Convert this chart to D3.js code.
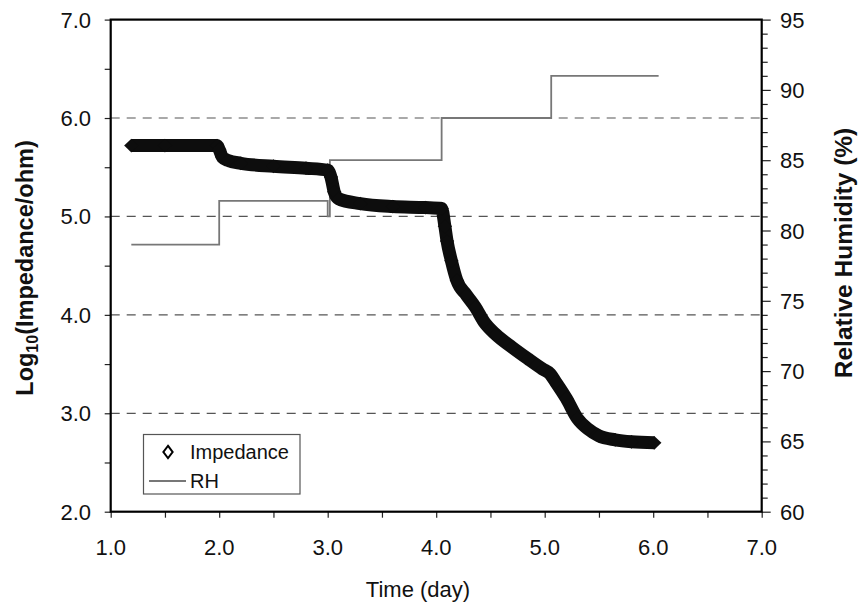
<!DOCTYPE html>
<html>
<head>
<meta charset="utf-8">
<script src="https://cdn.jsdelivr.net/npm/d3@7"></script>
<style>
  body { margin: 0; background: #fff; }
  text { font-family: "Liberation Sans", Arial, Helvetica, sans-serif; fill: #111; }
</style>
</head>
<body>
<svg width="859" height="605"></svg>
<script>
// Impedance readings (time in days, log10 impedance)
var impTime = [1.19, 1.5, 1.98, 2.0, 2.03, 2.08, 2.2, 2.5, 2.8, 3.0, 3.03, 3.06, 3.1, 3.3, 3.6, 3.9, 4.05,
  4.08, 4.10, 4.14, 4.19, 4.28, 4.36, 4.44, 4.55, 4.7, 4.85, 4.98, 5.05, 5.1, 5.2, 5.3, 5.4, 5.5, 5.65, 5.8, 6.01];
var impValue = [5.72, 5.72, 5.72, 5.68, 5.60, 5.57, 5.54, 5.51, 5.49, 5.47, 5.40, 5.25, 5.18, 5.13, 5.10, 5.09, 5.08,
  4.90, 4.75, 4.55, 4.35, 4.20, 4.08, 3.93, 3.80, 3.67, 3.55, 3.45, 3.40, 3.32, 3.15, 2.95, 2.84, 2.77, 2.73, 2.71, 2.70];

// Relative humidity steps (time in days, %)
var rhTime = [1.19, 2.0, 2.0, 3.0, 3.0, 3.02, 3.02, 4.05, 4.05, 5.06, 5.06, 6.05];
var rhValue = [79.0, 79.0, 82.1, 82.1, 81.0, 81.0, 85.0, 85.0, 88.0, 88.0, 91.0, 91.0];

// Ticks
var xTicks = [1, 2, 3, 4, 5, 6, 7];
var yTicks = [2, 3, 4, 5, 6, 7];
var gridValues = [3, 4, 5, 6];
var rhTicks = [60, 65, 70, 75, 80, 85, 90, 95];

var svg = d3.select("svg");
var pLeft = 110.7, pRight = 761.7, pTop = 19.6, pBottom = 511.7;

var x = d3.scaleLinear().domain([1, 7]).range([pLeft, pRight]);
var y = d3.scaleLinear().domain([2, 7]).range([pBottom, pTop]);
var yR = d3.scaleLinear().domain([60, 95]).range([pBottom, pTop]);

// dashed grid lines
svg.append("g")
  .selectAll("line")
  .data(gridValues)
  .enter()
  .append("line")
    .attr("x1", pLeft).attr("x2", pRight)
    .attr("y1", d => y(d)).attr("y2", d => y(d))
    .attr("stroke", "#555")
    .attr("stroke-width", 1.2)
    .attr("stroke-dasharray", "9,7");

// axes
var xAxis = svg.append("g")
  .attr("transform", "translate(0," + pBottom + ")")
  .call(d3.axisBottom(x).tickValues(d3.range(1, 7.01, 0.5)).tickSize(6).tickFormat(""));
var yAxis = svg.append("g")
  .attr("transform", "translate(" + pLeft + ",0)")
  .call(d3.axisLeft(y).tickValues(d3.range(2, 7.01, 0.5)).tickSize(6).tickFormat(""));
var yAxisR = svg.append("g")
  .attr("transform", "translate(" + pRight + ",0)")
  .call(d3.axisRight(yR).tickValues(d3.range(60, 95.01, 1)).tickSize(6).tickFormat(""));

[xAxis, yAxis, yAxisR].forEach(function (g) {
  g.select(".domain").remove();
  g.selectAll("line").attr("stroke", "#222").attr("stroke-width", 1.2);
});
yAxisR.selectAll(".tick line").filter(d => d % 5 === 0).attr("x2", 9);

// frame
svg.append("rect")
  .attr("x", pLeft).attr("y", pTop)
  .attr("width", pRight - pLeft).attr("height", pBottom - pTop)
  .attr("fill", "none")
  .attr("stroke", "#000")
  .attr("stroke-width", 2.2);

// tick labels
svg.append("g")
  .selectAll("text")
  .data(xTicks)
  .enter()
  .append("text")
    .attr("x", d => x(d))
    .attr("y", 555)
    .attr("text-anchor", "middle")
    .attr("font-size", 22)
    .text(d => d.toFixed(1));

svg.append("g")
  .selectAll("text")
  .data(yTicks)
  .enter()
  .append("text")
    .attr("x", 91)
    .attr("y", d => y(d) + 8)
    .attr("text-anchor", "end")
    .attr("font-size", 22)
    .text(d => d.toFixed(1));

svg.append("g")
  .selectAll("text")
  .data(rhTicks)
  .enter()
  .append("text")
    .attr("x", 780)
    .attr("y", d => yR(d) + 8)
    .attr("font-size", 22)
    .text(d => d);

// axis titles
svg.append("text")
  .attr("x", 418).attr("y", 597)
  .attr("text-anchor", "middle")
  .attr("font-size", 22)
  .text("Time (day)");

var lt = svg.append("text")
  .attr("transform", "translate(33,268) rotate(-90)")
  .attr("text-anchor", "middle")
  .attr("font-size", 23.5)
  .attr("font-weight", "bold");
lt.append("tspan").text("Log");
lt.append("tspan").attr("font-size", 16).attr("dy", 5).text("10");
lt.append("tspan").attr("dy", -5).text("(Impedance/ohm)");

svg.append("text")
  .attr("transform", "translate(852,253) rotate(-90)")
  .attr("text-anchor", "middle")
  .attr("font-size", 24.5)
  .attr("font-weight", "bold")
  .text("Relative Humidity (%)");

// RH line
var rhLine = d3.line()
  .x((d, i) => x(rhTime[i]))
  .y(d => yR(d));
svg.append("path")
  .datum(rhValue)
  .attr("d", rhLine)
  .attr("fill", "none")
  .attr("stroke", "#777")
  .attr("stroke-width", 1.8);

// Impedance: dense diamond markers drawn as a thick band
var impLine = d3.line()
  .x((d, i) => x(impTime[i]))
  .y(d => y(d))
  .curve(d3.curveMonotoneX);
svg.append("path")
  .datum(impValue)
  .attr("d", impLine)
  .attr("fill", "none")
  .attr("stroke", "#0d0d0d")
  .attr("stroke-width", 13)
  .attr("stroke-linejoin", "round")
  .attr("stroke-linecap", "butt");

var diamond = d3.symbol().type(d3.symbolDiamond).size(55);
svg.append("g")
  .selectAll("path")
  .data(impValue)
  .enter()
  .append("path")
    .attr("d", diamond)
    .attr("transform", (d, i) => "translate(" + x(impTime[i]) + "," + y(d) + ") scale(1.8,1)")
    .attr("fill", "#0d0d0d");

// legend
var lg = svg.append("g");
lg.append("rect")
  .attr("x", 143.5).attr("y", 434.5)
  .attr("width", 156.5).attr("height", 59.5)
  .attr("fill", "#fff")
  .attr("stroke", "#555")
  .attr("stroke-width", 1.2);
lg.append("path")
  .attr("d", d3.symbol().type(d3.symbolDiamond).size(45))
  .attr("transform", "translate(168,452) scale(1.3,1)")
  .attr("fill", "#fff")
  .attr("stroke", "#000")
  .attr("stroke-width", 1.6);
lg.append("text").attr("x", 190).attr("y", 459).attr("font-size", 20).text("Impedance");
lg.append("line")
  .attr("x1", 149).attr("x2", 186)
  .attr("y1", 481).attr("y2", 481)
  .attr("stroke", "#777")
  .attr("stroke-width", 1.8);
lg.append("text").attr("x", 190).attr("y", 488).attr("font-size", 20).text("RH");
</script>
</body>
</html>
